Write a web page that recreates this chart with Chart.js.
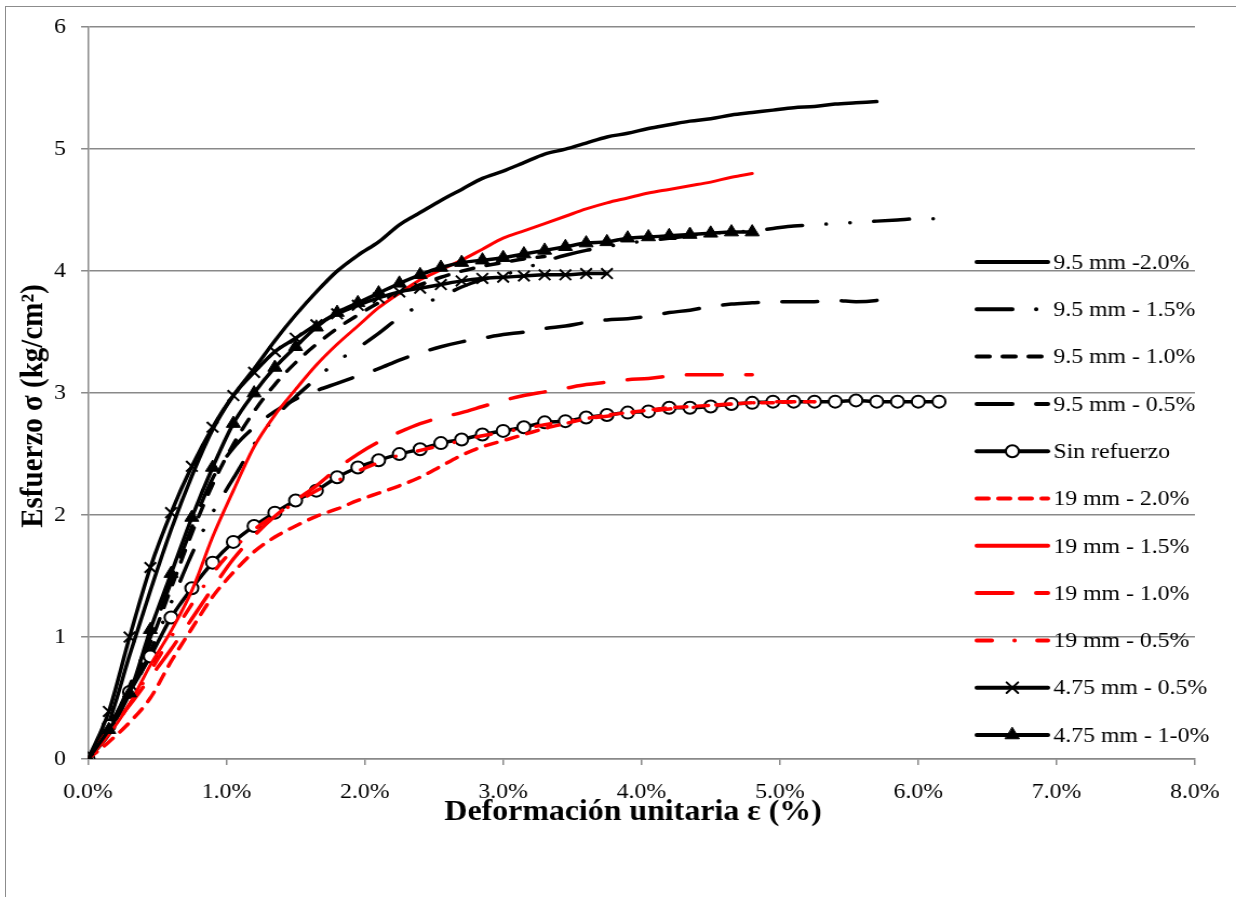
<!DOCTYPE html>
<html>
<head>
<meta charset="utf-8">
<script src="https://cdn.jsdelivr.net/npm/chart.js@4.4.1/dist/chart.umd.min.js"></script>
<style>
  html, body { margin: 0; padding: 0; background: #fff; }
  #wrap { position: relative; width: 1236px; height: 897px; overflow: hidden; }
  #frame { position: absolute; left: 5px; top: 6px; width: 1300px; height: 950px;
    border-left: 1.5px solid #8c8c8c; border-top: 1.5px solid #8c8c8c; }
  /* the original picture is stretched sideways a little; draw narrower and widen */
  canvas { position: absolute; left: 0; top: 0; transform-origin: 0 0; transform: scaleX(1.08042); }
</style>
</head>
<body>
<div id="wrap">
  <div id="frame"></div>
  <canvas id="chart" width="1144" height="897"></canvas>
</div>
<script>
// strain (%) shared by every series, one reading every 0.15 %
const strain = [0, 0.15, 0.3, 0.45, 0.6, 0.75, 0.9, 1.05, 1.2, 1.35, 1.5, 1.65, 1.8, 1.95, 2.1, 2.25,
  2.4, 2.55, 2.7, 2.85, 3.0, 3.15, 3.3, 3.45, 3.6, 3.75, 3.9, 4.05, 4.2, 4.35, 4.5, 4.65, 4.8,
  4.95, 5.1, 5.25, 5.4, 5.55, 5.7, 5.85, 6.0, 6.15];

// stress (kg/cm2) per series
const s95_20 = [0, 0.3, 0.85, 1.38, 1.88, 2.32, 2.70, 2.98, 3.2, 3.43, 3.64, 3.83, 4.0, 4.13, 4.24,
  4.38, 4.48, 4.58, 4.67, 4.76, 4.82, 4.89, 4.96, 5.0, 5.05, 5.10, 5.13, 5.17, 5.20, 5.23, 5.25,
  5.28, 5.30, 5.32, 5.34, 5.35, 5.37, 5.38, 5.39];
const s95_15 = [0, 0.2, 0.5, 0.88, 1.28, 1.68, 2.02, 2.3, 2.58, 2.8, 2.97, 3.12, 3.26, 3.37, 3.49,
  3.62, 3.72, 3.79, 3.87, 3.93, 3.97, 4.02, 4.08, 4.13, 4.17, 4.20, 4.23, 4.25, 4.27, 4.29, 4.31,
  4.32, 4.33, 4.35, 4.37, 4.38, 4.39, 4.40, 4.41, 4.42, 4.43, 4.43];
const s95_10 = [0, 0.22, 0.55, 0.95, 1.4, 1.85, 2.25, 2.58, 2.85, 3.07, 3.25, 3.4, 3.53, 3.64, 3.74,
  3.82, 3.89, 3.95, 4.0, 4.04, 4.07, 4.1, 4.12];
const s95_05 = [0, 0.25, 0.6, 1.0, 1.45, 1.9, 2.3, 2.55, 2.72, 2.85, 2.95, 3.02, 3.08, 3.14, 3.20,
  3.27, 3.33, 3.38, 3.42, 3.45, 3.48, 3.50, 3.53, 3.55, 3.58, 3.60, 3.61, 3.63, 3.66, 3.68, 3.71,
  3.73, 3.74, 3.75, 3.75, 3.75, 3.76, 3.75, 3.76, 3.79];
const sinRef = [0, 0.27, 0.55, 0.84, 1.16, 1.40, 1.61, 1.78, 1.91, 2.02, 2.12, 2.20, 2.31, 2.39, 2.45,
  2.50, 2.54, 2.59, 2.62, 2.66, 2.69, 2.72, 2.76, 2.77, 2.80, 2.82, 2.84, 2.85, 2.88, 2.88, 2.89,
  2.91, 2.92, 2.93, 2.93, 2.93, 2.93, 2.94, 2.93, 2.93, 2.93, 2.93];
const s19_20 = [0, 0.14, 0.3, 0.5, 0.8, 1.07, 1.33, 1.53, 1.70, 1.82, 1.91, 1.99, 2.05, 2.12, 2.18,
  2.24, 2.31, 2.40, 2.49, 2.56, 2.61, 2.66, 2.71, 2.75, 2.79, 2.82, 2.84, 2.86, 2.88, 2.89, 2.90,
  2.91, 2.92, 2.92, 2.93, 2.93];
const s19_15 = [0, 0.2, 0.45, 0.77, 1.05, 1.38, 1.82, 2.2, 2.56, 2.82, 3.03, 3.23, 3.4, 3.55, 3.7,
  3.82, 3.93, 4.01, 4.09, 4.18, 4.27, 4.33, 4.39, 4.45, 4.51, 4.56, 4.60, 4.64, 4.67, 4.70, 4.73,
  4.77, 4.80];
const s19_10 = [0, 0.24, 0.44, 0.67, 0.9, 1.15, 1.4, 1.64, 1.83, 1.99, 2.12, 2.24, 2.38, 2.50, 2.60,
  2.68, 2.75, 2.80, 2.84, 2.89, 2.94, 2.98, 3.01, 3.04, 3.07, 3.09, 3.11, 3.12, 3.14, 3.15, 3.15,
  3.15, 3.15];
const s19_05 = [0, 0.2, 0.45, 0.72, 1.0, 1.27, 1.52, 1.72, 1.88, 2.0, 2.1, 2.2, 2.28, 2.36, 2.43,
  2.49, 2.53, 2.57, 2.61, 2.65, 2.68, 2.71, 2.74, 2.77, 2.79, 2.81, 2.83, 2.85, 2.87, 2.88, 2.90,
  2.91, 2.92, 2.93, 2.93, 2.93];
const s475_05 = [0, 0.39, 1.0, 1.57, 2.02, 2.40, 2.72, 2.98, 3.17, 3.34, 3.45, 3.56, 3.65, 3.72, 3.78,
  3.83, 3.86, 3.89, 3.92, 3.94, 3.95, 3.96, 3.97, 3.97, 3.98, 3.98];
const s475_10 = [0, 0.24, 0.54, 1.06, 1.52, 1.98, 2.39, 2.75, 3.0, 3.21, 3.38, 3.54, 3.66, 3.74, 3.82,
  3.90, 3.97, 4.03, 4.07, 4.09, 4.11, 4.14, 4.17, 4.20, 4.23, 4.24, 4.27, 4.28, 4.29, 4.30, 4.31,
  4.32, 4.32];

const seriesNames = ['9.5 mm -2.0%', '9.5 mm - 1.5%', '9.5 mm - 1.0%', '9.5 mm - 0.5%', 'Sin refuerzo',
  '19 mm - 2.0%', '19 mm - 1.5%', '19 mm - 1.0%', '19 mm - 0.5%', '4.75 mm - 0.5%', '4.75 mm - 1-0%'];
const xTickLabels = ['0.0%', '1.0%', '2.0%', '3.0%', '4.0%', '5.0%', '6.0%', '7.0%', '8.0%'];
const yTickLabels = ['0', '1', '2', '3', '4', '5', '6'];
const xTitle = 'Deformación unitaria ε (%)';
const yTitle = 'Esfuerzo σ (kg/cm²)';

const BLACK = '#000000';
const RED = '#ff0000';
const GRID = '#898989';
const SERIF = "'Liberation Serif', 'Times New Roman', serif";

const pts = (ys) => ys.map((y, i) => ({ x: strain[i], y }));

// style per series: dash pattern, colour, marker
const styles = [
  { data: s95_20, color: BLACK, dash: [] },
  { data: s95_15, color: BLACK, dash: [33, 22, 0.1, 22, 0.1, 22] },
  { data: s95_10, color: BLACK, dash: [12, 12] },
  { data: s95_05, color: BLACK, dash: [33, 22] },
  { data: sinRef, color: BLACK, dash: [], marker: 'circle', fill: '#ffffff', radius: 6, mw: 2 },
  { data: s19_20, color: RED, dash: [11, 9] },
  { data: s19_15, color: RED, dash: [], width: 3 },
  { data: s19_10, color: RED, dash: [33, 22] },
  { data: s19_05, color: RED, dash: [14, 21, 0.1, 21] },
  { data: s475_05, color: BLACK, dash: [], marker: 'crossRot', fill: BLACK, radius: 7.5, mw: 2 },
  { data: s475_10, color: BLACK, dash: [], marker: 'triangle', fill: BLACK, radius: 7.5, mw: 1 },
];

const datasets = styles.map((s, i) => ({
  label: seriesNames[i],
  data: pts(s.data),
  borderColor: s.color,
  backgroundColor: s.fill || s.color,
  borderWidth: s.width || 3.5,
  borderDash: s.dash,
  borderCapStyle: 'round',
  borderJoinStyle: 'round',
  cubicInterpolationMode: 'monotone',
  pointStyle: s.marker || 'circle',
  pointRadius: s.marker ? s.radius : 0,
  pointBorderWidth: s.mw || 1,
  pointBorderColor: s.color,
  pointBackgroundColor: s.fill || s.color,
  order: styles.length - i,
}));

// legend inside the plot (over the grid) and the two axis titles
const legendInPlot = {
  id: 'legendInPlot',
  afterDraw(chart) {
    const ctx = chart.ctx;
    const x0 = 904, x1 = 970, top = 262, step = 47.3;
    chart.data.datasets.forEach((ds, i) => {
      const y = top + i * step;
      ctx.save();
      ctx.strokeStyle = ds.borderColor;
      ctx.lineWidth = 4;
      ctx.lineCap = 'round';
      ctx.setLineDash(ds.borderDash);
      ctx.beginPath();
      ctx.moveTo(x0, y);
      ctx.lineTo(x1, y);
      ctx.stroke();
      ctx.setLineDash([]);
      if (ds.pointRadius > 0) {
        ctx.fillStyle = ds.pointBackgroundColor;
        ctx.strokeStyle = ds.pointBorderColor;
        ctx.lineWidth = ds.pointBorderWidth;
        Chart.helpers.drawPoint(ctx, { pointStyle: ds.pointStyle, radius: ds.pointRadius, borderWidth: ds.pointBorderWidth, rotation: 0 }, (x0 + x1) / 2, y);
      }
      ctx.fillStyle = '#000';
      ctx.font = '22px ' + SERIF;
      ctx.textAlign = 'left';
      ctx.textBaseline = 'middle';
      ctx.fillText(ds.label, 975, y + 1);
      ctx.restore();
    });

    ctx.save();
    ctx.fillStyle = '#000';
    ctx.textAlign = 'center';
    ctx.textBaseline = 'middle';
    ctx.font = 'bold 29.5px ' + SERIF;
    ctx.fillText(xTitle, 586, 812);
    ctx.translate(32, 406);
    ctx.rotate(-Math.PI / 2);
    ctx.font = 'bold 29px ' + SERIF;
    ctx.fillText(yTitle, 0, 0);
    ctx.restore();
  },
};

new Chart(document.getElementById('chart'), {
  type: 'line',
  data: { datasets },
  plugins: [legendInPlot],
  options: {
    responsive: false,
    animation: false,
    devicePixelRatio: 1,
    layout: { padding: { left: 0, top: 27, right: 38, bottom: 69 } },
    plugins: { legend: { display: false }, tooltip: { enabled: false } },
    scales: {
      x: {
        type: 'linear', min: 0, max: 8,
        afterFit: (scale) => { scale.height = 69; },
        grid: { drawOnChartArea: false, drawTicks: true, tickLength: 6, color: GRID, lineWidth: 1.5 },
        border: { display: true, color: GRID, width: 1.5 },
        ticks: {
          stepSize: 1, padding: 14, color: '#000', font: { family: SERIF, size: 22 },
          callback: (v) => xTickLabels[Math.round(v)],
        },
      },
      y: {
        min: 0, max: 6,
        afterFit: (scale) => { scale.width = 81.5; },
        grid: { color: GRID, lineWidth: 1.5, tickLength: 6.5 },
        border: { display: true, color: GRID, width: 1.5 },
        ticks: {
          stepSize: 1, padding: 14, color: '#000', font: { family: SERIF, size: 22 },
          callback: (v) => yTickLabels[Math.round(v)],
        },
      },
    },
  },
});
</script>
</body>
</html>
